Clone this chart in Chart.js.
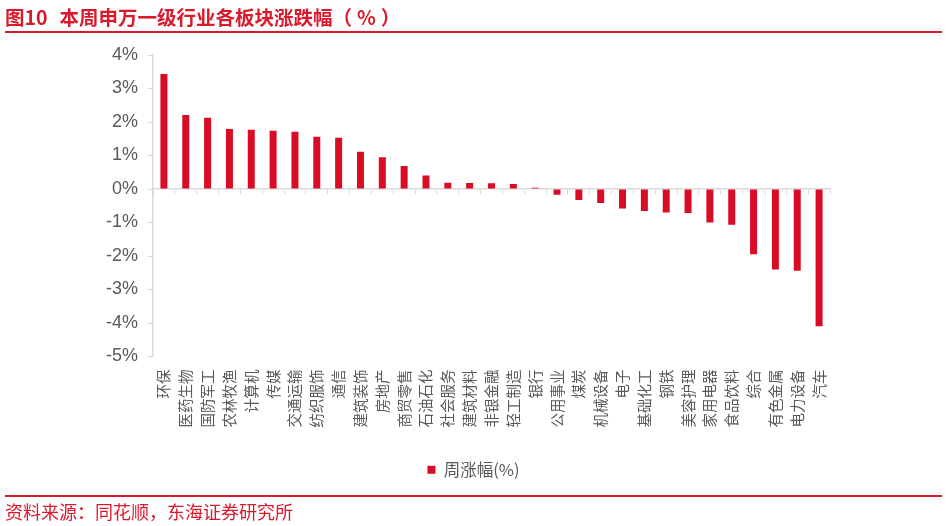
<!DOCTYPE html>
<html lang="zh-CN">
<head>
  <meta charset="UTF-8" />
  <title>本周申万一级行业各板块涨跌幅</title>
  <script src="https://cdn.jsdelivr.net/npm/chart.js"></script>
  <style>
    html, body { margin: 0; padding: 0; background: #fff; }
    #wrap { position: relative; width: 947px; height: 526px; overflow: hidden; font-family: "Noto Sans CJK SC", sans-serif; }
    #chart { position: absolute; left: 0; top: 0; }
    .title { position: absolute; left: 5px; top: 4px; font-size: 19.5px; font-weight: bold; color: #DA1A2C; line-height: 26px; white-space: nowrap; }
    .title .num { margin-right: 12px; }
    .title .pct { margin: 0 5px; }
    .rule { position: absolute; left: 5px; width: 937px; height: 2px; background: #DA1A2C; }
    .source { position: absolute; left: 5px; top: 499px; font-size: 18px; color: #DA1A2C; line-height: 24px; white-space: nowrap; }
  </style>
</head>
<body>
  <div id="wrap">
    <canvas id="chart" width="947" height="526"></canvas>
    <div class="title"><span class="num">图10</span>本周申万一级行业各板块涨跌幅（<span class="pct">%</span>）</div>
    <div class="rule" style="top:31px"></div>
    <div class="rule" style="top:495px"></div>
    <div class="source">资料来源：同花顺，东海证券研究所</div>
  </div>

  <script>
    const industries = ['环保', '医药生物', '国防军工', '农林牧渔', '计算机', '传媒', '交通运输', '纺织服饰',
      '通信', '建筑装饰', '房地产', '商贸零售', '石油石化', '社会服务', '建筑材料', '非银金融', '轻工制造',
      '银行', '公用事业', '煤炭', '机械设备', '电子', '基础化工', '钢铁', '美容护理', '家用电器', '食品饮料',
      '综合', '有色金属', '电力设备', '汽车'];
    const weeklyChange = [3.43, 2.21, 2.13, 1.79, 1.77, 1.74, 1.71, 1.56, 1.53, 1.11, 0.95, 0.69, 0.40, 0.19,
      0.18, 0.17, 0.15, 0.04, -0.17, -0.33, -0.42, -0.58, -0.66, -0.70, -0.72, -1.00, -1.07, -1.95, -2.40,
      -2.44, -4.10];
    const seriesName = '周涨幅(%)';
    const yMin = -5;
    const yMax = 4;
    const yStep = 1;

    const axisGrey = '#d9d9d9';
    const textGrey = '#595959';
    const barRed = '#D80C24';

    new Chart(document.getElementById('chart'), {
      type: 'bar',
      data: {
        labels: industries,
        datasets: [{
          label: seriesName,
          data: weeklyChange,
          backgroundColor: barRed,
          borderWidth: 0,
          barPercentage: 0.32,
          categoryPercentage: 1
        }]
      },
      options: {
        responsive: false,
        animation: false,
        layout: { padding: { top: 55, left: 0, right: 0, bottom: 38 } },
        plugins: {
          tooltip: { enabled: false },
          legend: {
            position: 'bottom',
            labels: {
              boxWidth: 8,
              boxHeight: 8,
              color: textGrey,
              font: { family: '"Noto Sans CJK SC", sans-serif', size: 16.5 }
            }
          }
        },
        scales: {
          x: {
            position: 'bottom',
            grid: { display: false },
            border: { display: false },
            ticks: {
              autoSkip: false,
              minRotation: 90,
              maxRotation: 90,
              padding: 5,
              color: textGrey,
              font: { family: '"Noto Sans CJK SC", sans-serif', size: 14.5 }
            },
            afterFit: s => { s.height = 95; }
          },
          xZero: {
            type: 'category',
            axis: 'x',
            position: { y: 0 },
            offset: true,
            grid: { offset: true, drawOnChartArea: false, drawTicks: true, tickLength: 5, color: axisGrey, lineWidth: 1 },
            border: { color: axisGrey, width: 1.5 },
            ticks: { display: false }
          },
          y: {
            min: yMin,
            max: yMax,
            grid: { drawOnChartArea: false, drawTicks: true, tickLength: 5, color: axisGrey },
            border: { color: axisGrey, width: 1.5 },
            ticks: {
              stepSize: yStep,
              padding: 10,
              color: textGrey,
              font: { family: '"Liberation Sans", Arial, sans-serif', size: 18 },
              callback: v => v + '%'
            },
            afterFit: s => { s.width = 153; }
          },
          spacer: {
            type: 'linear',
            position: 'right',
            grid: { display: false },
            border: { display: false },
            ticks: { display: false },
            afterFit: s => { s.width = 117; }
          }
        }
      }
    });
  </script>
</body>
</html>
